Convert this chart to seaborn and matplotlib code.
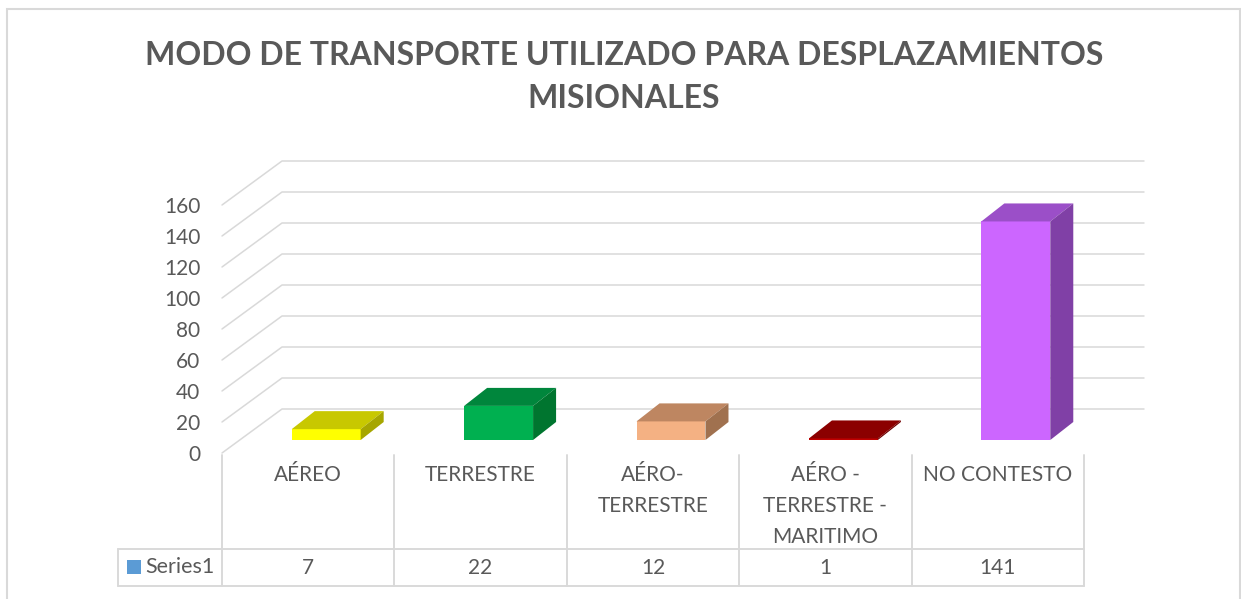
import numpy as np
import pandas as pd
import matplotlib
matplotlib.use("Agg")
import matplotlib.pyplot as plt
import seaborn as sns
from matplotlib.patches import Polygon, Rectangle
from matplotlib.lines import Line2D
from matplotlib.transforms import IdentityTransform, ScaledTranslation

# ---------------- data ----------------
categories = ["AÉREO", "TERRESTRE", "AÉRO-\nTERRESTRE",
              "AÉRO -\nTERRESTRE -\nMARITIMO", "NO CONTESTO"]
values = [7, 22, 12, 1, 141]
series_name = "Series1"
y_ticks = [0, 20, 40, 60, 80, 100, 120, 140, 160]
title = "MODO DE TRANSPORTE UTILIZADO PARA DESPLAZAMIENTOS\nMISIONALES"

front_colors = ["#FFFF00", "#00B050", "#F4B183", "#C00000", "#CC66FF"]
top_colors = ["#C8C800", "#00863C", "#BE8661", "#8B0000", "#9B4FC8"]
side_colors = ["#A6A600", "#00752F", "#A0714F", "#700000", "#8040A6"]

# ---------------- layout ----------------
W, H, DPI = 1241, 599, 100
TXT = "#595959"
GRID = "#D9D9D9"
WALL_DX, WALL_DY = 60, 44      # depth of chart walls (px)
BAR_OX, BAR_OY = 18, 13        # bar front plane offset (px)
BAR_DX, BAR_DY = 23, 18        # bar depth (px)
FS = 15

sns.set_theme(style="white")
plt.rcParams['font.family'] = ['Lato', 'DejaVu Sans']

fig = plt.figure(figsize=(W / DPI, H / DPI), dpi=DPI)
fig.patch.set_facecolor("white")


def fx(px):
    return px / W


def fy(py):
    return (H - py) / H


ax = fig.add_axes([fx(222), fy(453), fx(1084) - fx(222), fy(205) - fy(453)])
ax.set_facecolor("none")

df = pd.DataFrame({"cat": categories, "val": values})
sns.barplot(data=df, x="cat", y="val", hue="cat", palette=front_colors,
            width=0.4, saturation=1, legend=False, ax=ax, linewidth=0,
            zorder=3)
ax.set_xlim(-0.5, len(categories) - 0.5)
ax.set_ylim(0, 160)
ax.set_xticks([])
ax.set_xlabel("")
ax.set_ylabel("")
ax.set_yticks(y_ticks)
ax.set_yticklabels([str(t) for t in y_ticks])
ax.tick_params(axis="y", length=0, pad=15.5, labelsize=FS, labelcolor=TXT)
for s in ax.spines.values():
    s.set_visible(False)
ax.grid(False)

ID = IdentityTransform()
gw = 1.1

# walls / gridlines
for v in y_ticks:
    x0, y0 = ax.transData.transform((-0.5, v))
    x1, _ = ax.transData.transform((len(categories) - 0.5, v))
    ln = Line2D([x0, x0 + WALL_DX, x1 + WALL_DX],
                [y0, y0 + WALL_DY, y0 + WALL_DY],
                transform=ID, color=GRID, lw=gw, zorder=0.5, clip_on=False)
    ax.add_line(ln)

# 3D bars
patches = sorted(ax.patches, key=lambda p: p.get_x())
off = ScaledTranslation(BAR_OX / DPI, BAR_OY / DPI, fig.dpi_scale_trans)
for i, p in enumerate(patches):
    p.set_transform(ax.transData + off)
    p.set_clip_on(False)
    (xl, yb) = ax.transData.transform((p.get_x(), p.get_y()))
    (xr, yt) = ax.transData.transform((p.get_x() + p.get_width(),
                                       p.get_y() + p.get_height()))
    xl += BAR_OX; xr += BAR_OX; yb += BAR_OY; yt += BAR_OY
    top = Polygon([(xl, yt), (xr, yt), (xr + BAR_DX, yt + BAR_DY),
                   (xl + BAR_DX, yt + BAR_DY)], closed=True,
                  facecolor=top_colors[i], edgecolor="none",
                  transform=ID, clip_on=False, zorder=3)
    side = Polygon([(xr, yb), (xr, yt), (xr + BAR_DX, yt + BAR_DY),
                    (xr + BAR_DX, yb + BAR_DY)], closed=True,
                   facecolor=side_colors[i], edgecolor="none",
                   transform=ID, clip_on=False, zorder=3)
    ax.add_patch(top)
    ax.add_patch(side)

# ---------------- data table ----------------
tl = 1.4
row_top = H - 549
row_bot = H - 586
hdr_top = H - 455
x_left_tab = 118
bounds = [ax.transData.transform((b - 0.5, 0))[0] for b in range(len(categories) + 1)]
for bx in bounds:
    fig.add_artist(Line2D([bx, bx], [hdr_top, row_bot], transform=ID,
                          color=GRID, lw=tl))
for yy in (row_top, row_bot):
    fig.add_artist(Line2D([x_left_tab, bounds[-1]], [yy, yy], transform=ID,
                          color=GRID, lw=tl))
fig.add_artist(Line2D([x_left_tab, x_left_tab], [row_top, row_bot],
                      transform=ID, color=GRID, lw=tl))

for i, (c, v) in enumerate(zip(categories, values)):
    cx = ax.transData.transform((i, 0))[0]
    fig.text(cx / W, fy(465), c, ha="center", va="top", fontsize=FS,
             color=TXT, linespacing=1.68, multialignment="center")
    fig.text(cx / W, fy(568), str(v), ha="center", va="center",
             fontsize=FS, color=TXT)

fig.add_artist(Rectangle((127, H - 574), 14, 14, transform=ID,
                         facecolor="#5B9BD5", edgecolor="none"))
fig.text(fx(145), fy(567), series_name, ha="left", va="center",
         fontsize=15.5, color=TXT)

# title
fig.text(fx(624), fy(77), title, ha="center", va="center", fontsize=23,
         fontweight="bold", color=TXT, linespacing=1.55,
         multialignment="center")

# chart border
fig.add_artist(Rectangle((7, -10), 1233, H - 9 + 10, transform=ID,
                         facecolor="none", edgecolor=GRID, lw=1.5))

fig.savefig("out.png", dpi=DPI)
